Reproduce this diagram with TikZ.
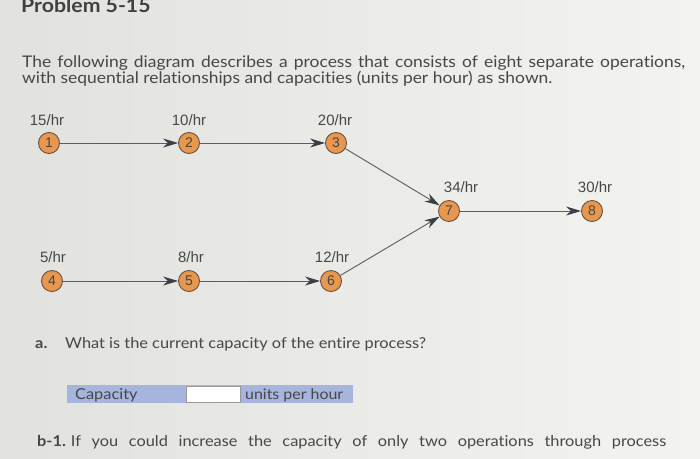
\documentclass[tikz,border=0pt]{standalone}
\usepackage{fontspec}
\setmainfont[FakeStretch=1.09,Ligatures=NoCommon]{Lato}
\newfontfamily\diagfont{Liberation Sans}
\usetikzlibrary{arrows.meta}
\definecolor{bgcol}{HTML}{EDEDE9}
\definecolor{bgcolr}{HTML}{F3F3EF}
\definecolor{txt}{HTML}{474747}
\definecolor{opfill}{HTML}{E8974E}
\definecolor{opdraw}{HTML}{6A5040}
\definecolor{edge}{HTML}{5A5C62}
\definecolor{tipcol}{HTML}{3A3E48}
\definecolor{barcol}{HTML}{A6B5DE}
\tikzset{
  op/.style={circle, fill=opfill, draw=opdraw, line width=0.9pt, minimum size=21pt, inner sep=0pt, font=\diagfont\fontsize{14}{14}\selectfont, text=txt},
  rate/.style={font=\diagfont\fontsize{15}{15}\selectfont, text=txt, inner sep=0pt},
  flow/.style={draw=edge, line width=0.9pt, -{Stealth[length=15pt,width=9pt,color=tipcol,fill=tipcol]}},
  body/.style={font=\fontsize{16}{16}\selectfont, text=txt, inner sep=0pt, anchor=base west},
}
\begin{document}
\begin{tikzpicture}[x=1pt,y=-1pt]
\useasboundingbox (0,0) rectangle (700,458);
\shade[left color=bgcol!95!black, right color=bgcolr] (0,0) rectangle (700,458);

\node[body, font=\bfseries\fontsize{19.5}{19.5}\selectfont, text=txt!90!black] (title) at (21,12) {Problem 5-15};
\node[body] (l1) at (22,67) {\makebox[663pt][s]{The following diagram describes a process that consists of eight separate operations,}};
\node[body] (l2) at (22,83) {with sequential relationships and capacities (units per hour) as shown.};

% operations
\node[op] (n1) at (49,143) {1};
\node[op] (n2) at (189,143) {2};
\node[op] (n3) at (336,143) {3};
\node[op] (n4) at (52,281) {4};
\node[op] (n5) at (189,281) {5};
\node[op] (n6) at (331,281) {6};
\node[op] (n7) at (449,211) {7};
\node[op] (n8) at (592,211) {8};

\node[rate] (r1) at (47,120) {15/hr};
\node[rate] (r2) at (189,120) {10/hr};
\node[rate] (r3) at (335,120) {20/hr};
\node[rate] (r4) at (53,257) {5/hr};
\node[rate] (r5) at (191,257) {8/hr};
\node[rate] (r6) at (332,257) {12/hr};
\node[rate] (r7) at (461,187) {34/hr};
\node[rate] (r8) at (595,187) {30/hr};

\draw[flow] (n1) -- (n2);
\draw[flow] (n2) -- (n3);
\draw[flow] (n3) -- (n7);
\draw[flow] (n4) -- (n5);
\draw[flow] (n5) -- (n6);
\draw[flow] (n6) -- (n7);
\draw[flow] (n7) -- (n8);

% question a
\node[body, font=\bfseries\fontsize{15}{15}\selectfont] (qa) at (35,348) {a.};
\node[body, font=\fontsize{15}{15}\selectfont] (qat) at (65,348) {What is the current capacity of the entire process?};

\fill[barcol] (67,385) rectangle (353,403);
\node[draw=gray!80, fill=white, line width=0.8pt, minimum width=54pt, minimum height=16pt, inner sep=0pt] (box) at (213,394) {};
\node[body, font=\fontsize{15}{15}\selectfont] (cap) at (75,399) {Capacity};
\node[body, font=\fontsize{14.6}{14.6}\selectfont] (uph) at (245,399) {units per hour};

\node[body, font=\fontsize{15}{15}\selectfont] (qb) at (37,446) {\makebox[629pt][s]{\textbf{b-1.}\hspace{5pt}If you could increase the capacity of only two operations through process}};
\end{tikzpicture}
\end{document}
